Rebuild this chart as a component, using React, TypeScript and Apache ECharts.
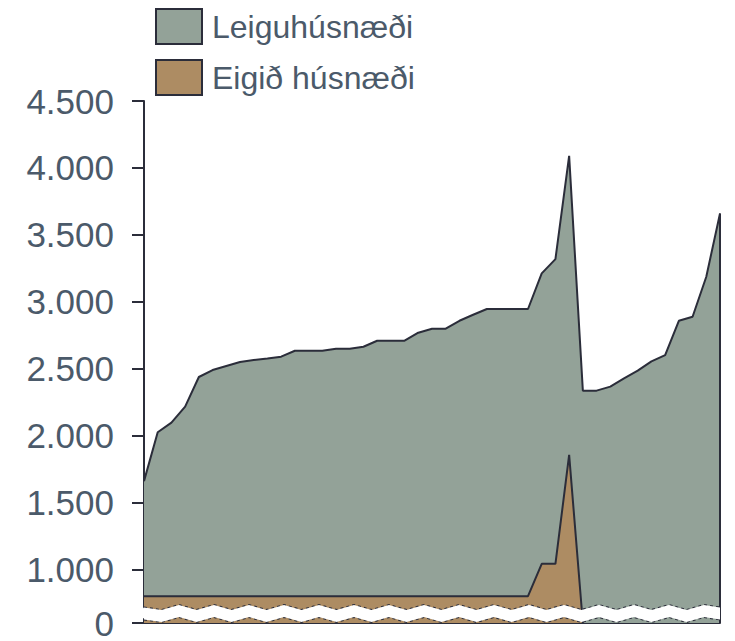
import React, { useEffect, useRef } from "react";
import * as echarts from "echarts";

const categories: string[] = Array.from({ length: 43 }, (_, i) => String(i + 1));

const leiguhusnaedi: number[] = [
  1660, 2025, 2097, 2216, 2438, 2490, 2520, 2550, 2565, 2576,
  2590, 2634, 2634, 2634, 2649, 2649, 2664, 2709, 2709, 2709,
  2769, 2799, 2799, 2858, 2903, 2946, 2946, 2946, 2946, 3212,
  3319, 4090, 2336, 2336, 2366, 2428, 2485, 2555, 2602, 2858,
  2888, 3187, 3660,
];

const eigidHusnaedi: (number | null)[] = [
  800, 800, 800, 800, 800, 800, 800, 800, 800, 800,
  800, 800, 800, 800, 800, 800, 800, 800, 800, 800,
  800, 800, 800, 800, 800, 800, 800, 800, 800, 1042,
  1042, 1856, 0, null, null, null, null, null, null, null,
  null, null, null,
];

const seriesNames = ["Leiguhúsnæði", "Eigið húsnæði"];
const yTickValues = [0, 1000, 1500, 2000, 2500, 3000, 3500, 4000, 4500];
const yRange = { min: 0, max: 4500, interval: 500 };
const axisBreak = { start: 30, end: 720, gap: 90 };

const DARK = "#2b2d3a";
const GRAY = "#93a298";
const TAN = "#ad8c63";
const TEXT = "#4b5a6a";

export default function App() {
  const ref = useRef<HTMLDivElement>(null);
  useEffect(() => {
    if (!ref.current) return;
    const chart = echarts.init(ref.current, null, { renderer: "svg" });
    const last = categories.length - 1;
    chart.setOption({
      animation: false,
      legend: {
        left: 150,
        top: 3,
        orient: "vertical",
        itemWidth: 46,
        itemHeight: 35,
        itemGap: 14,
        icon: "rect",
        textStyle: {
          fontFamily: "Liberation Sans, Arial, sans-serif",
          fontSize: 32,
          color: TEXT,
          padding: [0, 0, 0, 5],
        },
        data: [
          { name: seriesNames[0], itemStyle: { color: GRAY, borderColor: DARK, borderWidth: 2 } },
          { name: seriesNames[1], itemStyle: { color: TAN, borderColor: DARK, borderWidth: 2 } },
        ],
      },
      grid: { left: 144, right: 15, top: 101, bottom: 18 },
      xAxis: {
        type: "category",
        data: categories,
        boundaryGap: false,
        axisLine: { show: true, lineStyle: { color: DARK, width: 2 } },
        axisTick: { show: false },
        axisLabel: { show: false },
        splitLine: { show: false },
      },
      yAxis: {
        type: "value",
        min: yRange.min,
        max: yRange.max,
        interval: yRange.interval,
        breaks: [axisBreak],
        breakArea: {
          show: true,
          itemStyle: { color: "#ffffff", borderColor: DARK, borderWidth: 2, opacity: 1 },
          zigzagAmplitude: 2.5,
          zigzagMinSpan: 17.5,
          zigzagMaxSpan: 17.5,
          zigzagZ: 100,
          expandOnClick: false,
        },
        splitLine: { show: false },
        axisLine: { show: true, lineStyle: { color: DARK, width: 2 } },
        axisTick: {
          show: true,
          length: 12,
          customValues: yTickValues,
          lineStyle: { color: DARK, width: 2 },
        },
        axisLabel: {
          margin: 30,
          customValues: yTickValues,
          hideOverlap: false,
          fontFamily: "Liberation Sans, Arial, sans-serif",
          fontSize: 35,
          color: TEXT,
          formatter: (v: number) => String(v).replace(/\B(?=(\d{3})+(?!\d))/g, "."),
        },
      },
      series: [
        {
          name: seriesNames[0],
          type: "line",
          data: leiguhusnaedi,
          symbol: "none",
          lineStyle: { color: DARK, width: 2 },
          itemStyle: { color: GRAY },
          areaStyle: { color: GRAY, opacity: 1 },
          markLine: {
            silent: true,
            symbol: "none",
            label: { show: false },
            lineStyle: { color: DARK, width: 2, type: "solid" },
            data: [[{ coord: [last, 0] }, { coord: [last, leiguhusnaedi[last]] }]],
          },
        },
        {
          name: seriesNames[1],
          type: "line",
          data: eigidHusnaedi,
          symbol: "none",
          connectNulls: false,
          lineStyle: { color: DARK, width: 2 },
          itemStyle: { color: TAN },
          areaStyle: { color: TAN, opacity: 1 },
        },
      ],
    });
    return () => chart.dispose();
  }, []);
  return <div ref={ref} style={{ width: 735, height: 641, position: "absolute", left: 0, top: 0 }} />;
}
